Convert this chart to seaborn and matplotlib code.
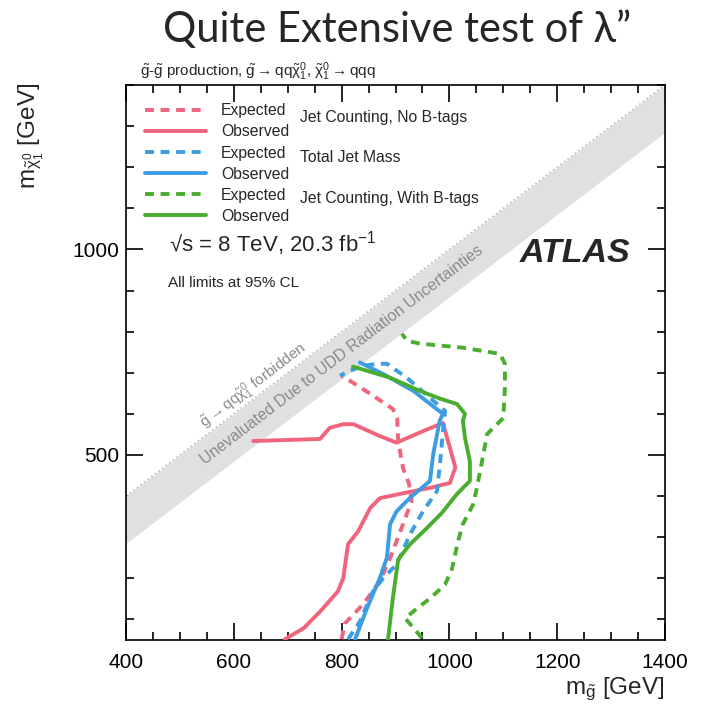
import numpy as np
import matplotlib
matplotlib.use("Agg")
import matplotlib.pyplot as plt
from matplotlib.lines import Line2D
from matplotlib.ticker import MultipleLocator, FixedLocator
import seaborn as sns

# Limit contours: (m_gluino, m_neutralino) in GeV
red_exp_x = [800, 806, 840, 871, 890, 914, 930, 925, 914, 905, 903, 895, 853, 816, 800]
red_exp_y = [52, 90, 137, 193, 249, 332, 388, 430, 468, 534, 590, 612, 649, 680, 692]

red_obs_x = [695, 729, 760, 793, 803, 812, 831, 853, 871, 914, 964, 1001, 1011, 1001, 988,
             951, 902, 871, 822, 803, 778, 760, 636]
red_obs_y = [52, 78, 119, 168, 200, 283, 315, 371, 395, 407, 420, 432, 470, 517, 578,
             558, 530, 546, 575, 575, 566, 539, 534]

blue_exp_x = [812, 834, 858, 877, 902, 927, 951, 977, 983, 988, 992, 964, 921, 884, 866, 840, 816, 797]
blue_exp_y = [52, 95, 168, 200, 234, 307, 363, 412, 485, 558, 607, 639, 688, 722, 722, 717, 705, 693]

blue_obs_x = [825, 847, 871, 884, 890, 902, 927, 964, 970, 982, 988, 933, 877, 834]
blue_obs_y = [52, 127, 201, 250, 332, 363, 396, 437, 502, 583, 600, 656, 697, 725]

green_exp_x = [949, 918, 940, 964, 992, 1005, 1016, 1025, 1044, 1051, 1063, 1070, 1100, 1103,
               1103, 1094, 1025, 945, 921, 912]
green_exp_y = [55, 103, 127, 151, 185, 224, 290, 332, 380, 420, 502, 551, 590, 663,
               722, 746, 761, 771, 778, 795]

green_obs_x = [886, 895, 905, 927, 958, 986, 1014, 1038, 1038, 1029, 1025, 1029, 1014, 983,
               945, 890, 847, 821]
green_obs_y = [50, 151, 246, 283, 322, 359, 405, 437, 485, 541, 583, 600, 624, 637,
               656, 688, 705, 715]

band_x = np.array([400, 1400])
band_width = 115

x_ticks = [400, 600, 800, 1000, 1200, 1400]
y_ticks = [500, 1000]

red, blue, green = "#f0647d", "#3d9de3", "#4aad2f"

sns.set_style("ticks")
plt.rcParams["font.family"] = ["Liberation Sans", "DejaVu Sans"]
plt.rcParams["mathtext.fontset"] = "custom"
plt.rcParams["mathtext.rm"] = "Liberation Sans"
plt.rcParams["mathtext.it"] = "Liberation Sans:italic"
plt.rcParams["mathtext.bf"] = "Liberation Sans:bold"
plt.rcParams["mathtext.default"] = "regular"

fig = plt.figure(figsize=(7.08, 7.07), dpi=100)
ax = fig.add_axes([126 / 708, 1 - 640 / 707, 539 / 708, 555 / 707])

# grey band along the kinematic limit
ax.fill_between(band_x, band_x - band_width, band_x, color="#e0e0e0", lw=0, zorder=1)
ax.plot(band_x, band_x, ls=(0, (1, 1.5)), color="#c4c4c4", lw=1.3, zorder=1)

curves = [
    (red_exp_x, red_exp_y, red, True),
    (red_obs_x, red_obs_y, red, False),
    (blue_exp_x, blue_exp_y, blue, True),
    (blue_obs_x, blue_obs_y, blue, False),
    (green_exp_x, green_exp_y, green, True),
    (green_obs_x, green_obs_y, green, False),
]
for xs, ys, col, dashed in curves:
    sns.lineplot(x=xs, y=ys, sort=False, estimator=None, color=col, lw=2.8, ax=ax, zorder=3)
    if dashed:
        ax.lines[-1].set_dashes([2.3, 1.7])

ax.set_xlim(400, 1400)
ax.set_ylim(50, 1400)
ax.xaxis.set_major_locator(FixedLocator(x_ticks))
ax.xaxis.set_minor_locator(MultipleLocator(50))
ax.yaxis.set_major_locator(FixedLocator(y_ticks))
ax.yaxis.set_minor_locator(MultipleLocator(100))
ax.tick_params(which="both", direction="in", top=True, right=True, width=1.2,
               labelsize=15, colors="black")
ax.tick_params(which="major", length=12)
ax.tick_params(which="minor", length=6)
ax.tick_params(axis="x", pad=9)
ax.tick_params(axis="y", pad=5)
for s in ax.spines.values():
    s.set_linewidth(1.2)
    s.set_color("black")
ax.set_xlabel("")
ax.set_ylabel("")

# legend
handles = [
    Line2D([], [], color=red, lw=2.8, dashes=[2.3, 1.7]),
    Line2D([], [], color=red, lw=2.8),
    Line2D([], [], color=blue, lw=2.8, dashes=[2.3, 1.7]),
    Line2D([], [], color=blue, lw=2.8),
    Line2D([], [], color=green, lw=2.8, dashes=[2.3, 1.7]),
    Line2D([], [], color=green, lw=2.8),
]
labels = ["Expected", "Observed"] * 3
ax.legend(handles, labels, loc="upper left", bbox_to_anchor=(0.035, 0.967),
          frameon=False, fontsize=11.3, handlelength=3.9, handletextpad=0.95,
          labelspacing=0.39, borderpad=0, borderaxespad=0)

ax.text(0.323, 0.942, "Jet Counting, No B-tags", transform=ax.transAxes, fontsize=11.3, va="center")
ax.text(0.323, 0.870, "Total Jet Mass", transform=ax.transAxes, fontsize=11.3, va="center")
ax.text(0.323, 0.795, "Jet Counting, With B-tags", transform=ax.transAxes, fontsize=11.3, va="center")

ax.text(0.08, 0.714, "√s = 8 TeV, 20.3 fb$^{-1}$", transform=ax.transAxes,
        fontsize=16, va="center")
ax.text(0.078, 0.643, "All limits at 95% CL", transform=ax.transAxes, fontsize=11, va="center")
ax.text(0.731, 0.697, "ATLAS", transform=ax.transAxes, fontsize=24.5, fontweight="bold",
        fontstyle="italic", va="center")

ax.text(801, 801 - band_width / 2, "Unevaluated Due to UDD Radiation Uncertainties",
        rotation=45, rotation_mode="anchor", transform_rotates_text=True,
        ha="center", va="center", fontsize=11.5, color="#8a8a8a", zorder=2)
ax.text(636, 668, r"$\tilde{g}\rightarrow qq\tilde{\chi}_1^0$ forbidden",
        rotation=45, rotation_mode="anchor", transform_rotates_text=True,
        ha="center", va="center", fontsize=11, color="#8a8a8a", zorder=2)

# axis titles and headers
fig.text(31 / 708, 1 - 83 / 707, r"m$_{\tilde{\chi}_1^0}$ [GeV]", rotation=90,
         ha="center", va="top", fontsize=17.5)
fig.text(665 / 708, 1 - 689 / 707, r"m$_{\tilde{g}}$ [GeV]", ha="right", va="center", fontsize=17.5)
fig.text(140 / 708, 1 - 72 / 707,
         r"$\tilde{g}$-$\tilde{g}$ production, $\tilde{g}\rightarrow qq\tilde{\chi}_1^0$, "
         r"$\tilde{\chi}_1^0\rightarrow qqq$", ha="left", va="center", fontsize=11)
fig.text(397 / 708, 1 - 30 / 707, "Quite Extensive test of λ”", ha="center", va="center",
         fontsize=30, family=["Lato", "DejaVu Sans"])

fig.savefig("out.png", dpi=100)
